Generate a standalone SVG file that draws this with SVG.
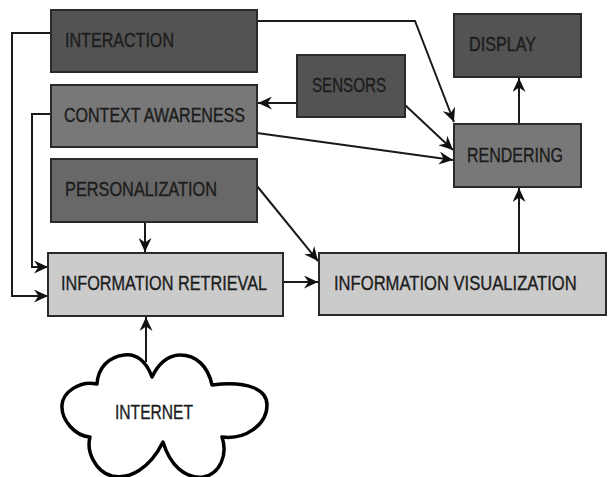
<svg xmlns="http://www.w3.org/2000/svg" width="610" height="477" viewBox="0 0 610 477">
<style>
.box{stroke:#2a2a2a;stroke-width:2}
.dark{fill:#535353}
.mid{fill:#787878}
.per{fill:#686868}
.light{fill:#cbcbcb}
.lbl{font-family:"Liberation Sans",Arial,sans-serif;font-size:19.5px;fill:#1c1c1c;stroke:#1c1c1c;stroke-width:0.35}
.con{fill:none;stroke:#1a1a1a;stroke-width:2}
</style>
<defs>
<marker id="ah" markerUnits="userSpaceOnUse" markerWidth="15" markerHeight="13" refX="14" refY="6.5" orient="auto">
<path d="M0,0 L14,6.5 L0,13 L4.5,6.5 z" fill="#111"/>
</marker>
</defs>
<rect width="610" height="477" fill="#fff"/>
<g id="connectors">
<path class="con" d="M257,21 H415 L454,122" marker-end="url(#ah)"/>
<path class="con" d="M51,33 H12 V296 H48" marker-end="url(#ah)"/>
<path class="con" d="M51,114 H32 V267 H48" marker-end="url(#ah)"/>
<path class="con" d="M297,103 H258" marker-end="url(#ah)"/>
<path class="con" d="M405,105 L453,150" marker-end="url(#ah)"/>
<path class="con" d="M257,133 L453,160" marker-end="url(#ah)"/>
<path class="con" d="M519,124 V78" marker-end="url(#ah)"/>
<path class="con" d="M519,253 V188" marker-end="url(#ah)"/>
<path class="con" d="M145,222 V252" marker-end="url(#ah)"/>
<path class="con" d="M257,186 L318,261" marker-end="url(#ah)"/>
<path class="con" d="M283,282 H318" marker-end="url(#ah)"/>
<path class="con" d="M146,362 V317" marker-end="url(#ah)"/>
</g>
<g id="interaction">
<rect class="box dark" x="51" y="10" width="206" height="62"/>
<text class="lbl" x="65" y="47" textLength="109" lengthAdjust="spacingAndGlyphs">INTERACTION</text>
</g>
<g id="context-awareness">
<rect class="box mid" x="51" y="85" width="206" height="62"/>
<text class="lbl" x="64" y="122" textLength="181" lengthAdjust="spacingAndGlyphs">CONTEXT AWARENESS</text>
</g>
<g id="sensors">
<rect class="box dark" x="297" y="55" width="108" height="62"/>
<text class="lbl" x="312" y="92" textLength="74" lengthAdjust="spacingAndGlyphs">SENSORS</text>
</g>
<g id="display">
<rect class="box dark" x="454" y="14" width="127" height="63"/>
<text class="lbl" x="469" y="51" textLength="67" lengthAdjust="spacingAndGlyphs">DISPLAY</text>
</g>
<g id="rendering">
<rect class="box mid" x="454" y="124" width="127" height="63"/>
<text class="lbl" x="467" y="162" textLength="96" lengthAdjust="spacingAndGlyphs">RENDERING</text>
</g>
<g id="personalization">
<rect class="box per" x="51" y="159" width="206" height="63"/>
<text class="lbl" x="65" y="196" textLength="152" lengthAdjust="spacingAndGlyphs">PERSONALIZATION</text>
</g>
<g id="information-retrieval">
<rect class="box light" x="48" y="253" width="235" height="63"/>
<text class="lbl" x="61" y="290" textLength="206" lengthAdjust="spacingAndGlyphs">INFORMATION RETRIEVAL</text>
</g>
<g id="information-visualization">
<rect class="box light" x="319" y="253" width="287" height="62"/>
<text class="lbl" transform="translate(334,290) scale(0.84,1)" x="0" y="0" textLength="289" lengthAdjust="spacingAndGlyphs">INFORMATION VISUALIZATION</text>
</g>
<g id="internet">
<path d="M152,377 C146,360 135,353 124,355 C108,357 98,368 97,384 C80,380 63,392 62,405 C61,420 75,436 90,437 C86,452 96,472 112,476 C130,480 150,468 163,442 C170,465 185,479 203,477 C220,474 228,455 222,437 C245,440 267,425 267,405 C267,390 248,380 212,385 C208,366 196,355 180,355 C168,355 158,364 152,377 Z" fill="#fff" stroke="#000" stroke-width="3.5" stroke-linejoin="round"/>
<text class="lbl" x="115" y="419" textLength="78" lengthAdjust="spacingAndGlyphs">INTERNET</text>
</g>
</svg>
